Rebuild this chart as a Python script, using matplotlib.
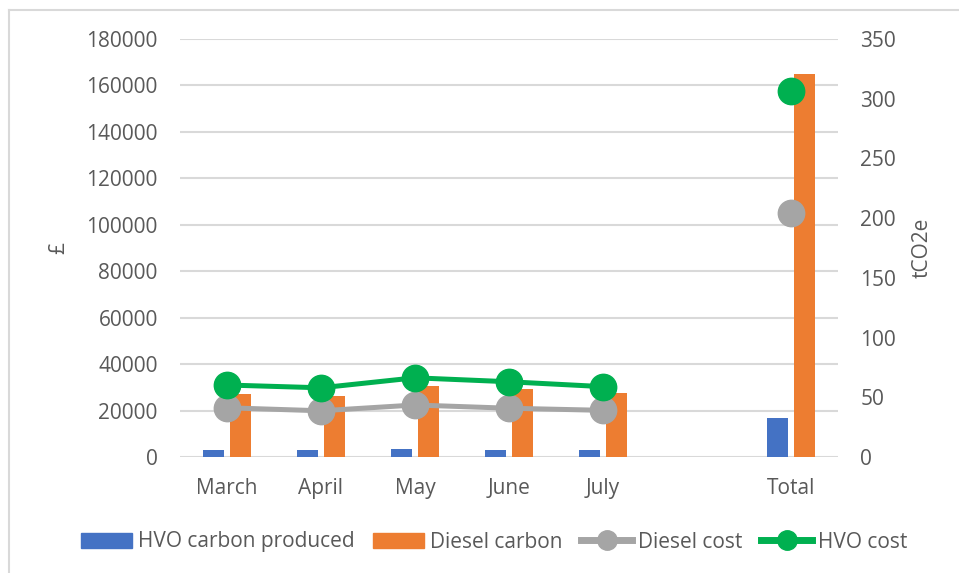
import numpy as np
import matplotlib
matplotlib.use("Agg")
import matplotlib.pyplot as plt
import matplotlib.transforms as mtransforms
from matplotlib.lines import Line2D
from matplotlib.patches import Patch

plt.rcParams['font.family'] = ['Open Sans', 'DejaVu Sans']

# Data
categories = ['March', 'April', 'May', 'June', 'July', '', 'Total']
hvo_carbon = [5.9, 5.5, 6.5, 6.0, 5.6, np.nan, 32.4]          # tCO2e
diesel_carbon = [52.5, 51.0, 59.5, 57.0, 54.0, np.nan, 321.0]  # tCO2e
diesel_cost = [21200, 19900, 22400, 21000, 20100, np.nan, 105200]  # £
hvo_cost = [31000, 29800, 34100, 32400, 30300, np.nan, 157700]     # £

BLUE = '#4472C4'
ORANGE = '#ED7D31'
GREY = '#A5A5A5'
GREEN = '#00B050'
TXT = '#595959'
FS = 15

W, H = 959, 573
fig = plt.figure(figsize=(W / 100, H / 100), dpi=100)
ax = fig.add_axes([180 / W, 1 - 457 / H, 658 / W, 418 / H])
ax2 = ax.twinx()

x = np.arange(len(categories))
bw = 0.223
off = 0.145

ax2.bar(x - off, hvo_carbon, bw, color=BLUE, zorder=2)
ax2.bar(x + off, diesel_carbon, bw, color=ORANGE, zorder=2)
ax2.set_ylim(0, 350)
ax2.set_yticks(np.arange(0, 351, 50))

ax.set_ylim(0, 180000)
left_ticks = np.arange(0, 180001, 20000)
ax.set_yticks(left_ticks)
ax.set_xlim(-0.5, len(categories) - 0.5)
ax.set_xticks(x)
ax.set_xticklabels(categories)

# cost lines on the left axis, drawn over the bars
ax.set_zorder(ax2.get_zorder() + 1)
ax.patch.set_visible(False)
ax.plot(x, diesel_cost, color=GREY, lw=3.6, marker='o', ms=19)
ax.plot(x, hvo_cost, color=GREEN, lw=3.6, marker='o', ms=19)

# gridlines follow the left axis but sit behind the bars
grid_tr = mtransforms.blended_transform_factory(ax2.transAxes, ax.transData)
for v in left_ticks:
    ax2.add_line(Line2D([0, 1], [v, v], transform=grid_tr, color='#D9D9D9',
                        lw=1.5, zorder=0))

for a in (ax, ax2):
    for s in a.spines.values():
        s.set_visible(False)
    a.tick_params(length=0, labelsize=FS, colors=TXT)
ax.tick_params(axis='y', pad=16)
ax2.tick_params(axis='y', pad=16)
ax.tick_params(axis='x', pad=15)

ax.set_ylabel('£', fontsize=FS, color=TXT, labelpad=12)
ax2.set_ylabel('tCO2e', fontsize=FS, color=TXT, labelpad=11)

handles = [
    Patch(color=BLUE),
    Patch(color=ORANGE),
    Line2D([], [], color=GREY, lw=5, marker='o', ms=14),
    Line2D([], [], color=GREEN, lw=5, marker='o', ms=14),
]
labels = ['HVO carbon produced', 'Diesel carbon', 'Diesel cost', 'HVO cost']
fig.legend(handles, labels, loc='center', bbox_to_anchor=(494 / W, 1 - 542 / H),
           ncol=4, frameon=False, fontsize=FS, labelcolor=TXT,
           handlelength=2.45, handleheight=0.7, handletextpad=0.28,
           columnspacing=0.9)

# chart frame (top and left edges visible in the reference)
fig.add_artist(Line2D([9 / W, 1], [1 - 10 / H, 1 - 10 / H], color='#D9D9D9', lw=1.5,
                      transform=fig.transFigure))
fig.add_artist(Line2D([9 / W, 9 / W], [0, 1 - 10 / H], color='#D9D9D9', lw=1.5,
                      transform=fig.transFigure))

fig.savefig('out.png', dpi=100)
